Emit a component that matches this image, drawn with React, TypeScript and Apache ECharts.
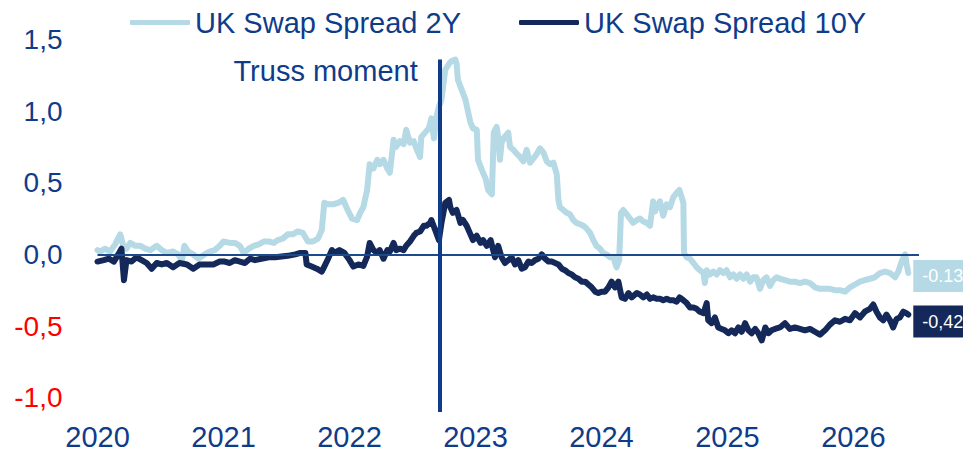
import React, { useEffect, useRef } from "react";
import * as echarts from "echarts";

// Decimal-year dates and spread values (pp)
const years2Y = [2020.00,2020.02,2020.06,2020.10,2020.14,2020.18,2020.205,2020.23,2020.26,2020.30,2020.34,2020.38,2020.42,2020.47,2020.51,2020.55,2020.60,2020.64,2020.67,2020.69,2020.72,2020.76,2020.80,2020.85,2020.89,2020.93,2020.97,2021.00,2021.05,2021.09,2021.13,2021.16,2021.20,2021.24,2021.28,2021.32,2021.36,2021.40,2021.43,2021.47,2021.51,2021.55,2021.59,2021.63,2021.67,2021.71,2021.75,2021.78,2021.80,2021.83,2021.87,2021.91,2021.95,2021.98,2022.02,2022.06,2022.09,2022.11,2022.14,2022.16,2022.19,2022.22,2022.24,2022.27,2022.30,2022.32,2022.35,2022.37,2022.40,2022.43,2022.45,2022.48,2022.51,2022.53,2022.56,2022.57,2022.60,2022.63,2022.65,2022.67,2022.69,2022.71,2022.73,2022.76,2022.79,2022.81,2022.84,2022.85,2022.86,2022.89,2022.92,2022.94,2022.96,2022.98,2023.01,2023.02,2023.05,2023.08,2023.10,2023.13,2023.145,2023.168,2023.18,2023.194,2023.207,2023.23,2023.26,2023.274,2023.30,2023.33,2023.353,2023.38,2023.406,2023.433,2023.46,2023.485,2023.512,2023.54,2023.565,2023.59,2023.618,2023.645,2023.658,2023.67,2023.697,2023.724,2023.75,2023.776,2023.80,2023.83,2023.856,2023.882,2023.91,2023.935,2023.96,2023.988,2024.014,2024.04,2024.067,2024.094,2024.12,2024.14,2024.155,2024.173,2024.20,2024.226,2024.25,2024.28,2024.305,2024.332,2024.36,2024.385,2024.41,2024.425,2024.438,2024.464,2024.49,2024.517,2024.544,2024.57,2024.597,2024.618,2024.636,2024.65,2024.655,2024.676,2024.702,2024.73,2024.755,2024.78,2024.81,2024.82,2024.835,2024.86,2024.887,2024.914,2024.94,2024.967,2024.993,2025.02,2025.046,2025.073,2025.10,2025.126,2025.152,2025.18,2025.205,2025.23,2025.258,2025.284,2025.31,2025.337,2025.363,2025.39,2025.416,2025.456,2025.496,2025.535,2025.575,2025.615,2025.655,2025.694,2025.734,2025.774,2025.813,2025.853,2025.893,2025.933,2025.972,2026.012,2026.052,2026.09,2026.13,2026.17,2026.21,2026.25,2026.29,2026.33,2026.356,2026.382,2026.41,2026.42,2026.435];
const spread2Y = [0.03,0.02,0.04,0.02,0.07,0.14,0.06,0.04,0.08,0.06,0.06,0.04,0.03,0.06,0.03,0.01,0.02,0.00,-0.04,0.06,0.02,0.00,-0.03,0.00,0.02,0.03,0.06,0.09,0.08,0.08,0.06,0.01,0.04,0.06,0.07,0.09,0.09,0.08,0.10,0.11,0.14,0.14,0.16,0.15,0.09,0.09,0.11,0.17,0.36,0.35,0.35,0.36,0.38,0.32,0.25,0.24,0.30,0.33,0.45,0.63,0.60,0.66,0.63,0.66,0.60,0.57,0.80,0.75,0.79,0.77,0.87,0.78,0.79,0.74,0.68,0.82,0.85,0.88,0.95,0.81,0.96,1.03,1.08,1.29,1.33,1.35,1.36,1.33,1.22,1.15,1.08,1.00,0.92,0.88,0.87,0.66,0.59,0.53,0.45,0.42,0.85,0.89,0.82,0.66,0.78,0.82,0.85,0.75,0.73,0.70,0.68,0.65,0.73,0.64,0.67,0.70,0.74,0.71,0.65,0.63,0.64,0.56,0.38,0.33,0.31,0.29,0.28,0.24,0.22,0.21,0.20,0.18,0.15,0.10,0.06,0.04,0.01,0.00,-0.02,-0.02,-0.09,-0.04,0.29,0.31,0.28,0.25,0.22,0.24,0.25,0.23,0.22,0.20,0.37,0.30,0.33,0.37,0.27,0.35,0.33,0.40,0.43,0.45,0.40,0.36,0.01,-0.02,-0.03,-0.06,-0.09,-0.11,-0.13,-0.20,-0.11,-0.14,-0.12,-0.14,-0.11,-0.13,-0.11,-0.16,-0.14,-0.17,-0.14,-0.17,-0.14,-0.19,-0.16,-0.16,-0.24,-0.18,-0.16,-0.22,-0.18,-0.16,-0.17,-0.18,-0.19,-0.19,-0.20,-0.19,-0.20,-0.23,-0.24,-0.24,-0.24,-0.25,-0.25,-0.26,-0.23,-0.21,-0.19,-0.18,-0.17,-0.16,-0.13,-0.12,-0.13,-0.16,-0.12,-0.05,0.00,-0.06,-0.13];

const years10Y = [2020.00,2020.05,2020.09,2020.13,2020.165,2020.19,2020.21,2020.23,2020.27,2020.31,2020.35,2020.39,2020.43,2020.47,2020.51,2020.55,2020.60,2020.65,2020.71,2020.76,2020.81,2020.87,2020.92,2020.97,2021.01,2021.05,2021.09,2021.13,2021.17,2021.21,2021.25,2021.30,2021.36,2021.41,2021.46,2021.51,2021.57,2021.61,2021.65,2021.66,2021.70,2021.74,2021.78,2021.80,2021.83,2021.86,2021.88,2021.92,2021.96,2022.00,2022.03,2022.07,2022.11,2022.14,2022.16,2022.19,2022.22,2022.24,2022.27,2022.30,2022.32,2022.35,2022.37,2022.40,2022.43,2022.45,2022.48,2022.51,2022.53,2022.56,2022.59,2022.61,2022.64,2022.65,2022.68,2022.71,2022.73,2022.76,2022.79,2022.80,2022.82,2022.85,2022.88,2022.90,2022.93,2022.96,2022.98,2023.01,2023.04,2023.06,2023.09,2023.12,2023.14,2023.155,2023.18,2023.207,2023.234,2023.26,2023.287,2023.314,2023.34,2023.367,2023.393,2023.42,2023.446,2023.473,2023.50,2023.526,2023.552,2023.58,2023.605,2023.632,2023.658,2023.685,2023.71,2023.738,2023.764,2023.79,2023.817,2023.843,2023.87,2023.896,2023.922,2023.95,2023.975,2024.00,2024.028,2024.055,2024.08,2024.108,2024.134,2024.16,2024.187,2024.214,2024.24,2024.28,2024.305,2024.332,2024.36,2024.385,2024.41,2024.438,2024.464,2024.49,2024.517,2024.544,2024.57,2024.597,2024.62,2024.65,2024.676,2024.702,2024.73,2024.755,2024.78,2024.81,2024.835,2024.847,2024.874,2024.90,2024.927,2024.954,2024.98,2025.007,2025.033,2025.06,2025.086,2025.113,2025.14,2025.166,2025.192,2025.22,2025.245,2025.272,2025.30,2025.325,2025.35,2025.377,2025.416,2025.456,2025.496,2025.535,2025.575,2025.615,2025.655,2025.694,2025.734,2025.774,2025.813,2025.853,2025.893,2025.933,2025.972,2026.012,2026.052,2026.09,2026.13,2026.157,2026.183,2026.21,2026.236,2026.262,2026.29,2026.315,2026.342,2026.368,2026.395,2026.42,2026.435];
const spread10Y = [-0.05,-0.04,-0.03,-0.05,0.00,0.04,-0.18,-0.04,-0.05,-0.02,-0.04,-0.06,-0.10,-0.06,-0.07,-0.06,-0.09,-0.06,-0.07,-0.10,-0.07,-0.07,-0.07,-0.05,-0.05,-0.06,-0.04,-0.05,-0.06,-0.03,-0.04,-0.03,-0.02,-0.02,-0.015,-0.01,0.00,0.01,0.01,-0.07,-0.085,-0.10,-0.12,-0.085,-0.03,0.03,0.01,0.03,0.01,-0.04,-0.085,-0.07,-0.08,-0.015,0.08,0.03,0.01,0.03,-0.03,0.03,0.02,0.08,0.03,0.04,0.03,0.06,0.09,0.13,0.15,0.16,0.20,0.20,0.22,0.24,0.17,0.10,0.22,0.36,0.38,0.33,0.29,0.31,0.22,0.24,0.20,0.14,0.10,0.13,0.08,0.10,0.06,0.10,0.03,-0.02,0.06,-0.02,-0.06,-0.04,-0.02,-0.07,-0.04,-0.10,-0.09,-0.05,-0.06,-0.04,-0.03,0.00,-0.03,-0.05,-0.05,-0.06,-0.07,-0.10,-0.11,-0.13,-0.14,-0.16,-0.17,-0.19,-0.19,-0.21,-0.23,-0.26,-0.27,-0.26,-0.26,-0.23,-0.19,-0.23,-0.19,-0.30,-0.31,-0.27,-0.30,-0.27,-0.28,-0.30,-0.28,-0.31,-0.30,-0.31,-0.31,-0.32,-0.31,-0.32,-0.32,-0.33,-0.30,-0.32,-0.34,-0.37,-0.37,-0.38,-0.40,-0.41,-0.34,-0.46,-0.48,-0.44,-0.51,-0.52,-0.53,-0.55,-0.53,-0.55,-0.51,-0.54,-0.48,-0.53,-0.55,-0.52,-0.55,-0.60,-0.51,-0.55,-0.53,-0.52,-0.51,-0.48,-0.52,-0.51,-0.52,-0.53,-0.52,-0.54,-0.56,-0.53,-0.49,-0.46,-0.47,-0.45,-0.46,-0.41,-0.44,-0.40,-0.38,-0.35,-0.40,-0.44,-0.46,-0.42,-0.46,-0.51,-0.45,-0.44,-0.40,-0.41,-0.42];

const seriesNames = ["UK Swap Spread 2Y", "UK Swap Spread 10Y"];
const trussDate = 2022.72;
const trussLabel = "Truss moment";
const trussTop = 1.36;
const yMin = -1.1;
const yMax = 1.5;
const xMin = 2020;
const xMax = 2026.52;

const BLUE = "#0f3c8a";
const LIGHT = "#b5d9e5";
const DARK = "#14295a";
const FONT = "'Liberation Sans', Arial, sans-serif";

export default function App() {
  const ref = useRef<HTMLDivElement>(null);
  useEffect(() => {
    if (!ref.current) return;
    const chart = echarts.init(ref.current, undefined, { renderer: "svg" });
    const d2 = years2Y.map((x, i) => [x, spread2Y[i]]);
    const d10 = years10Y.map((x, i) => [x, spread10Y[i]]);
    chart.setOption({
      animation: false,
      textStyle: { fontFamily: FONT },
      grid: { left: 97.5, right: 44, top: 39.5, bottom: 41 },
      legend: {
        left: 125,
        top: 3,
        itemWidth: 60,
        itemHeight: 5,
        itemGap: 58,
        icon: "roundRect",
        textStyle: { fontSize: 29, color: BLUE, fontFamily: FONT },
        data: seriesNames,
      },
      xAxis: {
        type: "value",
        min: xMin,
        max: xMax,
        interval: 1,
        axisLine: { show: false },
        axisTick: { show: false },
        splitLine: { show: false },
        axisLabel: {
          showMaxLabel: false,
          margin: 10,
          fontSize: 29,
          color: BLUE,
          fontFamily: FONT,
          formatter: (v: number) => String(Math.round(v)),
        },
      },
      yAxis: {
        type: "value",
        min: yMin,
        max: yMax,
        interval: 0.1,
        axisLine: { show: false },
        axisTick: { show: false },
        splitLine: { show: false },
        axisLabel: {
          margin: 35,
          fontSize: 28,
          fontFamily: FONT,
          formatter: (v: number) => {
            const r = Math.round(v * 10);
            if (r % 5 !== 0) return "";
            const s = (r / 10).toFixed(1).replace(".", ",");
            return r < 0 ? `{neg|${s}}` : `{pos|${s}}`;
          },
          rich: {
            neg: { color: "#ff0000", fontSize: 28, fontFamily: FONT },
            pos: { color: BLUE, fontSize: 28, fontFamily: FONT },
          },
        },
      },
      series: [
        {
          name: "zero",
          type: "line",
          data: [],
          z: 1,
          markLine: {
            silent: true,
            symbol: ["none", "none"],
            label: { show: false },
            lineStyle: { color: "#1d4a8a", width: 2, type: "solid" },
            data: [{ yAxis: 0 }],
          },
        },
        {
          name: seriesNames[0],
          type: "line",
          data: d2,
          symbol: "none",
          z: 2,
          lineStyle: { color: LIGHT, width: 6, cap: "round", join: "round" },
          itemStyle: { color: LIGHT },
          endLabel: {
            show: true,
            formatter: (p: any) => p.value[1].toFixed(2),
            backgroundColor: LIGHT,
            color: "#ffffff",
            fontSize: 18,
            fontFamily: FONT,
            padding: [7, 12, 7, 9],
            distance: 5,
            offset: [0, 3],
          },
        },
        {
          name: seriesNames[1],
          type: "line",
          data: d10,
          symbol: "none",
          z: 3,
          lineStyle: { color: DARK, width: 6, cap: "round", join: "round" },
          itemStyle: { color: DARK },
          endLabel: {
            show: true,
            formatter: (p: any) => p.value[1].toFixed(2).replace(".", ","),
            backgroundColor: DARK,
            color: "#ffffff",
            fontSize: 18,
            fontFamily: FONT,
            padding: [7, 12, 7, 9],
            distance: 5,
            offset: [0, 7],
          },
          markLine: {
            silent: true,
            symbol: ["none", "none"],
            label: { show: false },
            lineStyle: { color: BLUE, width: 4, type: "solid" },
            data: [[{ coord: [trussDate, trussTop] }, { coord: [trussDate, yMin] }]],
          },
          markPoint: {
            silent: true,
            symbol: "circle",
            symbolSize: 1,
            itemStyle: { color: "rgba(0,0,0,0)" },
            label: {
              show: true,
              position: "left",
              distance: 22,
              formatter: trussLabel,
              fontSize: 29,
              color: BLUE,
              fontFamily: FONT,
            },
            data: [{ coord: [trussDate, 1.28] }],
          },
        },
      ],
    });
    return () => chart.dispose();
  }, []);
  return (
    <div
      ref={ref}
      style={{ position: "fixed", left: 0, top: 0, width: 963, height: 453, background: "#ffffff" }}
    />
  );
}
